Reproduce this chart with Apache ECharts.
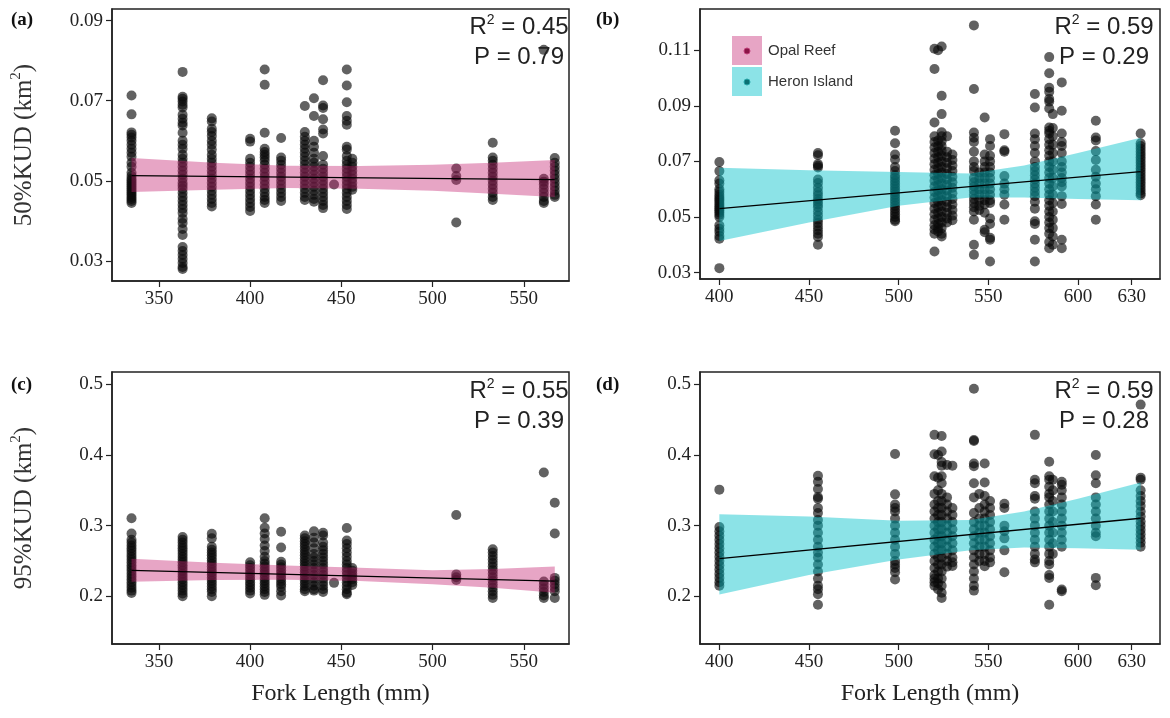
<!DOCTYPE html>
<html>
<head>
<meta charset="utf-8">
<title>KUD vs Fork Length</title>
<script src="https://cdn.jsdelivr.net/npm/echarts@6.0.0/dist/echarts.min.js"></script>
<style>
  html, body { margin: 0; padding: 0; background: #fff; }
  #chart { width: 1170px; height: 718px; }
</style>
</head>
<body>
<div id="chart"></div>
<script>
// ---- Opal Reef (panels a, c): fork length columns and KUD values per column
var forkOpal = [335, 363, 379, 400, 408, 417, 430, 435, 440, 446, 453, 456, 513, 533, 561, 567];
var kud50Opal = [
  [0.0713, 0.0666, 0.0621, 0.0615, 0.0608, 0.0600, 0.0590, 0.0580, 0.0570, 0.0560, 0.0545, 0.0535, 0.0520, 0.0512, 0.0505, 0.0500, 0.0495, 0.0490, 0.0485, 0.0480, 0.0475, 0.0470, 0.0465, 0.0460, 0.0455, 0.0450, 0.0445],
  [0.0772, 0.0710, 0.0705, 0.0698, 0.0690, 0.0683, 0.0665, 0.0655, 0.0645, 0.0638, 0.0620, 0.0600, 0.0590, 0.0580, 0.0565, 0.0555, 0.0545, 0.0535, 0.0525, 0.0515, 0.0505, 0.0495, 0.0488, 0.0480, 0.0470, 0.0460, 0.0450, 0.0440, 0.0430, 0.0420, 0.0405, 0.0395, 0.0380, 0.0365, 0.0335, 0.0325, 0.0315, 0.0305, 0.0295, 0.0285, 0.0280],
  [0.0656, 0.0648, 0.0630, 0.0622, 0.0612, 0.0600, 0.0590, 0.0578, 0.0565, 0.0555, 0.0545, 0.0535, 0.0525, 0.0515, 0.0505, 0.0495, 0.0485, 0.0475, 0.0465, 0.0455, 0.0445, 0.0436],
  [0.0605, 0.0598, 0.0555, 0.0545, 0.0535, 0.0525, 0.0515, 0.0505, 0.0495, 0.0485, 0.0475, 0.0465, 0.0455, 0.0445, 0.0435, 0.0425],
  [0.0778, 0.0740, 0.0620, 0.0580, 0.0572, 0.0565, 0.0558, 0.0550, 0.0540, 0.0530, 0.0520, 0.0510, 0.0500, 0.0490, 0.0480, 0.0470, 0.0460, 0.0452, 0.0445],
  [0.0607, 0.0558, 0.0550, 0.0540, 0.0530, 0.0520, 0.0510, 0.0500, 0.0490, 0.0480, 0.0470, 0.0460, 0.0450],
  [0.0687, 0.0622, 0.0610, 0.0600, 0.0590, 0.0580, 0.0570, 0.0560, 0.0550, 0.0540, 0.0530, 0.0520, 0.0510, 0.0500, 0.0490, 0.0480, 0.0470, 0.0460, 0.0452],
  [0.0706, 0.0662, 0.0600, 0.0585, 0.0570, 0.0555, 0.0545, 0.0535, 0.0525, 0.0515, 0.0505, 0.0495, 0.0485, 0.0475, 0.0465, 0.0455, 0.0448],
  [0.0751, 0.0688, 0.0682, 0.0654, 0.0628, 0.0618, 0.0562, 0.0540, 0.0530, 0.0520, 0.0510, 0.0500, 0.0490, 0.0480, 0.0470, 0.0460, 0.0450, 0.0440, 0.0432],
  [0.0491],
  [0.0778, 0.0738, 0.0696, 0.0662, 0.0650, 0.0640, 0.0585, 0.0578, 0.0562, 0.0550, 0.0540, 0.0530, 0.0520, 0.0510, 0.0500, 0.0490, 0.0480, 0.0470, 0.0460, 0.0450, 0.0440, 0.0430],
  [0.0555, 0.0545, 0.0535, 0.0525, 0.0515, 0.0505, 0.0495, 0.0485, 0.0478],
  [0.0531, 0.0512, 0.0502, 0.0396],
  [0.0595, 0.0558, 0.0550, 0.0540, 0.0530, 0.0520, 0.0510, 0.0500, 0.0490, 0.0480, 0.0470, 0.0460, 0.0452],
  [0.0827, 0.0505, 0.0498, 0.0490, 0.0480, 0.0470, 0.0460, 0.0450, 0.0445],
  [0.0557, 0.0545, 0.0535, 0.0525, 0.0515, 0.0505, 0.0495, 0.0485, 0.0475, 0.0465, 0.0460]
];
var kud95Opal = [
  [0.3105, 0.2890, 0.2800, 0.2760, 0.2720, 0.2680, 0.2640, 0.2600, 0.2560, 0.2520, 0.2480, 0.2440, 0.2400, 0.2360, 0.2320, 0.2280, 0.2240, 0.2200, 0.2160, 0.2120, 0.2080, 0.2048],
  [0.2840, 0.2800, 0.2760, 0.2720, 0.2680, 0.2640, 0.2600, 0.2560, 0.2520, 0.2480, 0.2440, 0.2400, 0.2360, 0.2320, 0.2280, 0.2240, 0.2200, 0.2160, 0.2120, 0.2080, 0.2040, 0.2000],
  [0.2885, 0.2820, 0.2700, 0.2660, 0.2620, 0.2580, 0.2540, 0.2500, 0.2460, 0.2420, 0.2380, 0.2340, 0.2300, 0.2260, 0.2220, 0.2180, 0.2140, 0.2100, 0.2060, 0.2000],
  [0.2480, 0.2440, 0.2400, 0.2360, 0.2320, 0.2280, 0.2240, 0.2200, 0.2160, 0.2120, 0.2080, 0.2040],
  [0.3105, 0.2970, 0.2890, 0.2810, 0.2720, 0.2640, 0.2560, 0.2500, 0.2460, 0.2420, 0.2380, 0.2340, 0.2300, 0.2260, 0.2220, 0.2180, 0.2140, 0.2100, 0.2060, 0.2020],
  [0.2914, 0.2690, 0.2490, 0.2450, 0.2410, 0.2370, 0.2330, 0.2290, 0.2250, 0.2210, 0.2170, 0.2130, 0.2070, 0.2010],
  [0.2860, 0.2820, 0.2780, 0.2740, 0.2700, 0.2660, 0.2620, 0.2580, 0.2540, 0.2500, 0.2460, 0.2420, 0.2380, 0.2340, 0.2300, 0.2260, 0.2220, 0.2180, 0.2140, 0.2100, 0.2070],
  [0.2920, 0.2830, 0.2760, 0.2680, 0.2600, 0.2550, 0.2500, 0.2450, 0.2400, 0.2350, 0.2300, 0.2250, 0.2200, 0.2150, 0.2100, 0.2080],
  [0.2900, 0.2860, 0.2760, 0.2700, 0.2650, 0.2600, 0.2550, 0.2500, 0.2450, 0.2400, 0.2350, 0.2300, 0.2250, 0.2200, 0.2150, 0.2100, 0.2060],
  [0.2190],
  [0.2967, 0.2790, 0.2740, 0.2680, 0.2620, 0.2560, 0.2500, 0.2450, 0.2400, 0.2350, 0.2300, 0.2250, 0.2200, 0.2150, 0.2100, 0.2050, 0.2030],
  [0.2400, 0.2360, 0.2320, 0.2280, 0.2240, 0.2200, 0.2160],
  [0.3152, 0.2310, 0.2270, 0.2230],
  [0.2667, 0.2620, 0.2570, 0.2520, 0.2470, 0.2420, 0.2370, 0.2320, 0.2270, 0.2220, 0.2170, 0.2120, 0.2070, 0.2020, 0.1975],
  [0.3752, 0.2210, 0.2160, 0.2110, 0.2060, 0.2010, 0.1975],
  [0.3324, 0.2890, 0.2260, 0.2220, 0.2170, 0.2120, 0.2070, 0.1975]
];

// ---- Heron Island (panels b, d)
var forkHeron = [400, 455, 498, 520, 522, 524, 527, 530, 542, 545, 548, 551, 559, 576, 584, 586, 591, 610, 635];
var kud50Heron = [
  [0.0698, 0.0665, 0.0632, 0.0620, 0.0600, 0.0590, 0.0580, 0.0572, 0.0565, 0.0558, 0.0550, 0.0543, 0.0536, 0.0530, 0.0523, 0.0516, 0.0508, 0.0500, 0.0470, 0.0458, 0.0447, 0.0432, 0.0422, 0.0316],
  [0.0730, 0.0722, 0.0690, 0.0684, 0.0678, 0.0635, 0.0622, 0.0605, 0.0590, 0.0578, 0.0565, 0.0555, 0.0545, 0.0535, 0.0520, 0.0505, 0.0490, 0.0478, 0.0465, 0.0452, 0.0440, 0.0428, 0.0400],
  [0.0810, 0.0765, 0.0725, 0.0707, 0.0680, 0.0665, 0.0650, 0.0640, 0.0630, 0.0620, 0.0610, 0.0600, 0.0590, 0.0580, 0.0570, 0.0560, 0.0550, 0.0540, 0.0530, 0.0520, 0.0510, 0.0500, 0.0490, 0.0485],
  [0.1105, 0.1032, 0.0840, 0.0790, 0.0770, 0.0750, 0.0730, 0.0710, 0.0690, 0.0670, 0.0650, 0.0630, 0.0610, 0.0590, 0.0570, 0.0550, 0.0530, 0.0510, 0.0490, 0.0470, 0.0455, 0.0440, 0.0376],
  [0.1100, 0.0775, 0.0755, 0.0735, 0.0715, 0.0695, 0.0675, 0.0655, 0.0635, 0.0615, 0.0595, 0.0575, 0.0555, 0.0535, 0.0515, 0.0495, 0.0475, 0.0460, 0.0448],
  [0.1113, 0.0936, 0.0870, 0.0805, 0.0790, 0.0772, 0.0755, 0.0738, 0.0720, 0.0700, 0.0680, 0.0660, 0.0640, 0.0620, 0.0600, 0.0580, 0.0560, 0.0540, 0.0520, 0.0500, 0.0480, 0.0460, 0.0440, 0.0430],
  [0.0790, 0.0735, 0.0715, 0.0695, 0.0675, 0.0655, 0.0635, 0.0615, 0.0595, 0.0575, 0.0555, 0.0535, 0.0515, 0.0495, 0.0480],
  [0.0725, 0.0705, 0.0685, 0.0665, 0.0645, 0.0625, 0.0605, 0.0585, 0.0565, 0.0545, 0.0525, 0.0505, 0.0488],
  [0.1189, 0.0960, 0.0804, 0.0785, 0.0770, 0.0735, 0.0700, 0.0680, 0.0665, 0.0640, 0.0625, 0.0610, 0.0595, 0.0580, 0.0565, 0.0550, 0.0535, 0.0520, 0.0490, 0.0400, 0.0364],
  [0.0660, 0.0640, 0.0620, 0.0600, 0.0580, 0.0560, 0.0540, 0.0525],
  [0.0858, 0.0725, 0.0700, 0.0680, 0.0660, 0.0640, 0.0620, 0.0600, 0.0580, 0.0560, 0.0545, 0.0515, 0.0454, 0.0445],
  [0.0780, 0.0755, 0.0720, 0.0700, 0.0680, 0.0660, 0.0640, 0.0620, 0.0600, 0.0580, 0.0560, 0.0550, 0.0495, 0.0475, 0.0425, 0.0418, 0.0340],
  [0.0798, 0.0740, 0.0735, 0.0647, 0.0620, 0.0600, 0.0580, 0.0545, 0.0490],
  [0.0942, 0.0894, 0.0800, 0.0780, 0.0755, 0.0730, 0.0700, 0.0680, 0.0665, 0.0650, 0.0635, 0.0620, 0.0605, 0.0590, 0.0575, 0.0555, 0.0530, 0.0485, 0.0475, 0.0418, 0.0340],
  [0.1075, 0.1017, 0.0965, 0.0950, 0.0924, 0.0915, 0.0890, 0.0822, 0.0810, 0.0800, 0.0780, 0.0760, 0.0740, 0.0720, 0.0700, 0.0680, 0.0660, 0.0640, 0.0620, 0.0600, 0.0580, 0.0560, 0.0540, 0.0520, 0.0500, 0.0480, 0.0460, 0.0440, 0.0410, 0.0388],
  [0.0870, 0.0820, 0.0790, 0.0760, 0.0730, 0.0700, 0.0670, 0.0640, 0.0610, 0.0580, 0.0550, 0.0520, 0.0490, 0.0460, 0.0430, 0.0400],
  [0.0984, 0.0882, 0.0800, 0.0770, 0.0755, 0.0730, 0.0700, 0.0680, 0.0660, 0.0640, 0.0625, 0.0610, 0.0575, 0.0547, 0.0418, 0.0388],
  [0.0846, 0.0786, 0.0775, 0.0737, 0.0705, 0.0670, 0.0645, 0.0620, 0.0600, 0.0575, 0.0545, 0.0490],
  [0.0800, 0.0765, 0.0755, 0.0745, 0.0735, 0.0725, 0.0715, 0.0705, 0.0695, 0.0685, 0.0675, 0.0665, 0.0655, 0.0645, 0.0635, 0.0625, 0.0615, 0.0605, 0.0595, 0.0585, 0.0578]
];
var kud95Heron = [
  [0.3510, 0.2980, 0.2920, 0.2860, 0.2800, 0.2740, 0.2680, 0.2620, 0.2560, 0.2500, 0.2440, 0.2380, 0.2320, 0.2260, 0.2200, 0.2150],
  [0.3705, 0.3620, 0.3520, 0.3405, 0.3380, 0.3250, 0.3180, 0.3080, 0.3000, 0.2900, 0.2800, 0.2700, 0.2620, 0.2550, 0.2450, 0.2350, 0.2250, 0.2150, 0.2100, 0.2030, 0.1880],
  [0.4014, 0.3443, 0.3300, 0.3250, 0.3200, 0.3100, 0.3000, 0.2900, 0.2800, 0.2700, 0.2600, 0.2500, 0.2450, 0.2400, 0.2340, 0.2238],
  [0.4286, 0.4010, 0.3700, 0.3450, 0.3300, 0.3200, 0.3100, 0.3000, 0.2900, 0.2800, 0.2700, 0.2600, 0.2500, 0.2400, 0.2300, 0.2250, 0.2200, 0.2150],
  [0.4000, 0.3680, 0.3500, 0.3350, 0.3250, 0.3150, 0.3050, 0.2950, 0.2850, 0.2750, 0.2650, 0.2550, 0.2450, 0.2350, 0.2250, 0.2180, 0.2100],
  [0.4270, 0.4050, 0.3900, 0.3850, 0.3700, 0.3600, 0.3450, 0.3350, 0.3250, 0.3150, 0.3050, 0.2950, 0.2850, 0.2750, 0.2650, 0.2550, 0.2450, 0.2350, 0.2250, 0.2150, 0.2050, 0.1976],
  [0.3860, 0.3400, 0.3300, 0.3200, 0.3100, 0.3000, 0.2900, 0.2800, 0.2700, 0.2600, 0.2500, 0.2420],
  [0.3850, 0.3250, 0.3150, 0.3050, 0.2950, 0.2850, 0.2750, 0.2650, 0.2550, 0.2480, 0.2430],
  [0.4938, 0.4214, 0.4200, 0.3880, 0.3840, 0.3600, 0.3400, 0.3180, 0.3050, 0.2950, 0.2850, 0.2750, 0.2650, 0.2550, 0.2450, 0.2350, 0.2250, 0.2150, 0.2080],
  [0.3450, 0.3250, 0.3100, 0.3000, 0.2900, 0.2800, 0.2700, 0.2600, 0.2500],
  [0.3880, 0.3610, 0.3420, 0.3300, 0.3200, 0.3100, 0.3000, 0.2900, 0.2800, 0.2700, 0.2600, 0.2500, 0.2424],
  [0.3350, 0.3250, 0.3150, 0.3050, 0.2950, 0.2850, 0.2750, 0.2650, 0.2550, 0.2480],
  [0.3310, 0.3250, 0.3000, 0.2920, 0.2820, 0.2650, 0.2340],
  [0.4286, 0.3650, 0.3600, 0.3420, 0.3380, 0.3200, 0.3100, 0.3000, 0.2900, 0.2800, 0.2700, 0.2600, 0.2520, 0.2480],
  [0.3905, 0.3700, 0.3650, 0.3550, 0.3450, 0.3400, 0.3300, 0.3200, 0.3100, 0.3000, 0.2900, 0.2800, 0.2700, 0.2600, 0.2500, 0.2450, 0.2300, 0.2260, 0.1880],
  [0.3650, 0.3500, 0.3350, 0.3200, 0.3050, 0.2900, 0.2750, 0.2600],
  [0.3620, 0.3580, 0.3500, 0.3400, 0.3300, 0.3200, 0.3100, 0.3000, 0.2900, 0.2800, 0.2700, 0.2095, 0.2070],
  [0.4000, 0.3714, 0.3600, 0.3400, 0.3300, 0.3200, 0.3100, 0.3000, 0.2900, 0.2850, 0.2260, 0.2157],
  [0.4714, 0.3680, 0.3650, 0.3500, 0.3420, 0.3350, 0.3280, 0.3200, 0.3130, 0.3060, 0.3000, 0.2940, 0.2880, 0.2820, 0.2760, 0.2700]
];

// ---- fitted lines and 95% confidence bands
var fitXOpal = [335, 567];
var fit50Opal = [0.0513, 0.0503];
var fit95Opal = [0.2367, 0.2214];
var bandXOpal = [335, 380, 420, 460, 500, 533, 567];
var band50LoOpal = [0.0472, 0.0478, 0.0482, 0.0480, 0.0475, 0.0468, 0.0460];
var band50HiOpal = [0.0557, 0.0545, 0.0538, 0.0537, 0.0540, 0.0545, 0.0552];
var band95LoOpal = [0.2205, 0.2230, 0.2235, 0.2215, 0.2170, 0.2120, 0.2050];
var band95HiOpal = [0.2530, 0.2475, 0.2435, 0.2405, 0.2370, 0.2385, 0.2420];

var fitXHeron = [400, 635];
var fit50Heron = [0.0530, 0.0663];
var fit95Heron = [0.2533, 0.3105];
var bandXHeron = [400, 450, 500, 540, 570, 600, 635];
var band50LoHeron = [0.0414, 0.0480, 0.0540, 0.0570, 0.0570, 0.0565, 0.0560];
var band50HiHeron = [0.0677, 0.0668, 0.0662, 0.0656, 0.0685, 0.0730, 0.0785];
var band95LoHeron = [0.2025, 0.2300, 0.2520, 0.2650, 0.2690, 0.2680, 0.2660];
var band95HiHeron = [0.3160, 0.3130, 0.3070, 0.3080, 0.3200, 0.3380, 0.3610];

// ---- axis ticks
var xTicksOpal = [350, 400, 450, 500, 550];
var xTicksHeron = [400, 450, 500, 550, 600, 630];
var yTicks50Opal = [0.03, 0.05, 0.07, 0.09];
var yTicks50Heron = [0.03, 0.05, 0.07, 0.09, 0.11];
var yTicks95 = [0.2, 0.3, 0.4, 0.5];

var PINK = 'rgba(195, 30, 110, 0.4)';
var CYAN = 'rgba(0, 192, 202, 0.45)';
var DOT = 'rgba(10, 10, 10, 0.8)';
var SERIF = '"Liberation Serif", "Times New Roman", serif';
var SANS = '"Liberation Sans", Arial, sans-serif';

function flatten(xs, cols) {
  var out = [];
  for (var i = 0; i < xs.length; i++) {
    for (var j = 0; j < cols[i].length; j++) out.push([xs[i], cols[i][j]]);
  }
  return out;
}

function xAxisFor(gi, min, max, ticks, title) {
  return {
    type: 'value', gridIndex: gi, min: min, max: max,
    axisLine: { show: true, lineStyle: { color: '#222', width: 1.5 } },
    axisTick: { show: true, length: 6, customValues: ticks, lineStyle: { color: '#222', width: 1.2 } },
    axisLabel: { customValues: ticks, margin: 9, fontFamily: SERIF, fontSize: 19, color: '#222' },
    splitLine: { show: false },
    name: title || '', nameLocation: 'middle', nameGap: 38,
    nameTextStyle: { fontFamily: SERIF, fontSize: 24, color: '#222' }
  };
}

function yAxisFor(gi, min, max, ticks, title) {
  return {
    type: 'value', gridIndex: gi, min: min, max: max,
    axisLine: { show: true, lineStyle: { color: '#222', width: 1.5 } },
    axisTick: { show: true, length: 6, customValues: ticks, lineStyle: { color: '#222', width: 1.2 } },
    axisLabel: { customValues: ticks, margin: 9, fontFamily: SERIF, fontSize: 19, color: '#222' },
    splitLine: { show: false },
    name: title || '', nameLocation: 'middle', nameRotate: 90, nameGap: 73,
    nameTextStyle: {
      fontFamily: SERIF, fontSize: 25, color: '#333',
      rich: { sup: { fontFamily: SERIF, fontSize: 15, verticalAlign: 'top', lineHeight: 30, padding: [0, 0, 10, 0] } }
    }
  };
}

function scatterFor(gi, xs, cols) {
  return {
    type: 'scatter', xAxisIndex: gi, yAxisIndex: gi, z: 2, silent: true,
    symbol: 'circle', symbolSize: 10, itemStyle: { color: DOT },
    data: flatten(xs, cols)
  };
}

function bandFor(gi, xs, lo, hi, color) {
  return {
    type: 'custom', xAxisIndex: gi, yAxisIndex: gi, z: 3, silent: true,
    data: [[xs[0], lo[0]]],
    renderItem: function (params, api) {
      var pts = [];
      for (var i = 0; i < xs.length; i++) pts.push(api.coord([xs[i], hi[i]]));
      for (var k = xs.length - 1; k >= 0; k--) pts.push(api.coord([xs[k], lo[k]]));
      return { type: 'polygon', shape: { points: pts }, style: { fill: color } };
    }
  };
}

function fitFor(gi, xs, ys) {
  return {
    type: 'line', xAxisIndex: gi, yAxisIndex: gi, z: 4, silent: true,
    symbol: 'none', lineStyle: { color: '#000', width: 1.3 },
    data: [[xs[0], ys[0]], [xs[1], ys[1]]]
  };
}

function statText(cx, top, r2, p) {
  var rich = { s: { fontFamily: SANS, fontSize: 14, verticalAlign: 'top', lineHeight: 28, padding: [0, 0, 10, 0] } };
  return [
    { type: 'text', x: cx, y: top, z: 10,
      style: { text: 'R{s|2} = ' + r2, fontFamily: SANS, fontSize: 24, fill: '#222', align: 'center', verticalAlign: 'middle', rich: rich } },
    { type: 'text', x: cx, y: top + 30, z: 10,
      style: { text: 'P = ' + p, fontFamily: SANS, fontSize: 24, fill: '#222', align: 'center', verticalAlign: 'middle' } }
  ];
}

function panelLetter(x, y, t) {
  return { type: 'text', x: x, y: y, z: 10,
    style: { text: t, fontFamily: SERIF, fontWeight: 'bold', fontSize: 19, fill: '#111', verticalAlign: 'middle' } };
}

var chart = echarts.init(document.getElementById('chart'), null, { renderer: 'canvas' });

var gridBox = { show: true, borderColor: '#222', borderWidth: 1.5, backgroundColor: 'transparent' };

var option = {
  backgroundColor: '#ffffff',
  animation: false,
  grid: [
    Object.assign({ left: 112, top: 9, width: 457, height: 272 }, gridBox),
    Object.assign({ left: 700, top: 9, width: 460, height: 270 }, gridBox),
    Object.assign({ left: 112, top: 372, width: 457, height: 272 }, gridBox),
    Object.assign({ left: 700, top: 372, width: 460, height: 272 }, gridBox)
  ],
  xAxis: [
    xAxisFor(0, 324.3, 574.8, xTicksOpal),
    xAxisFor(1, 389.2, 645.8, xTicksHeron),
    xAxisFor(2, 324.3, 574.8, xTicksOpal, 'Fork Length (mm)'),
    xAxisFor(3, 389.2, 645.8, xTicksHeron, 'Fork Length (mm)')
  ],
  yAxis: [
    yAxisFor(0, 0.025, 0.0929, yTicks50Opal, '50%KUD (km{sup|2})'),
    yAxisFor(1, 0.0277, 0.1248, yTicks50Heron),
    yAxisFor(2, 0.1324, 0.5176, yTicks95, '95%KUD (km{sup|2})'),
    yAxisFor(3, 0.1324, 0.5176, yTicks95)
  ],
  series: [
    scatterFor(0, forkOpal, kud50Opal),
    bandFor(0, bandXOpal, band50LoOpal, band50HiOpal, PINK),
    fitFor(0, fitXOpal, fit50Opal),

    scatterFor(1, forkHeron, kud50Heron),
    bandFor(1, bandXHeron, band50LoHeron, band50HiHeron, CYAN),
    fitFor(1, fitXHeron, fit50Heron),

    scatterFor(2, forkOpal, kud95Opal),
    bandFor(2, bandXOpal, band95LoOpal, band95HiOpal, PINK),
    fitFor(2, fitXOpal, fit95Opal),

    scatterFor(3, forkHeron, kud95Heron),
    bandFor(3, bandXHeron, band95LoHeron, band95HiHeron, CYAN),
    fitFor(3, fitXHeron, fit95Heron)
  ],
  graphic: [
    panelLetter(11, 20, '(a)'),
    panelLetter(596, 20, '(b)'),
    panelLetter(11, 385, '(c)'),
    panelLetter(596, 385, '(d)'),
    // legend in panel (b)
    { type: 'rect', shape: { x: 732, y: 36, width: 30, height: 29 }, style: { fill: PINK }, z: 10 },
    { type: 'rect', shape: { x: 732, y: 67, width: 30, height: 29 }, style: { fill: CYAN }, z: 10 },
    { type: 'circle', shape: { cx: 747, cy: 51, r: 3 }, style: { fill: '#8a1446', stroke: '#c0407a', lineWidth: 1 }, z: 11 },
    { type: 'circle', shape: { cx: 747, cy: 82, r: 3 }, style: { fill: '#0b6f72', stroke: '#2aa8ab', lineWidth: 1 }, z: 11 },
    { type: 'text', x: 768, y: 51, z: 11, style: { text: 'Opal Reef', fontFamily: SANS, fontSize: 15, fill: '#333', verticalAlign: 'middle' } },
    { type: 'text', x: 768, y: 82, z: 11, style: { text: 'Heron Island', fontFamily: SANS, fontSize: 15, fill: '#333', verticalAlign: 'middle' } }
  ]
    .concat(statText(519, 27, '0.45', '0.79'))
    .concat(statText(1104, 27, '0.59', '0.29'))
    .concat(statText(519, 391, '0.55', '0.39'))
    .concat(statText(1104, 391, '0.59', '0.28'))
};

chart.setOption(option);
</script>
</body>
</html>
